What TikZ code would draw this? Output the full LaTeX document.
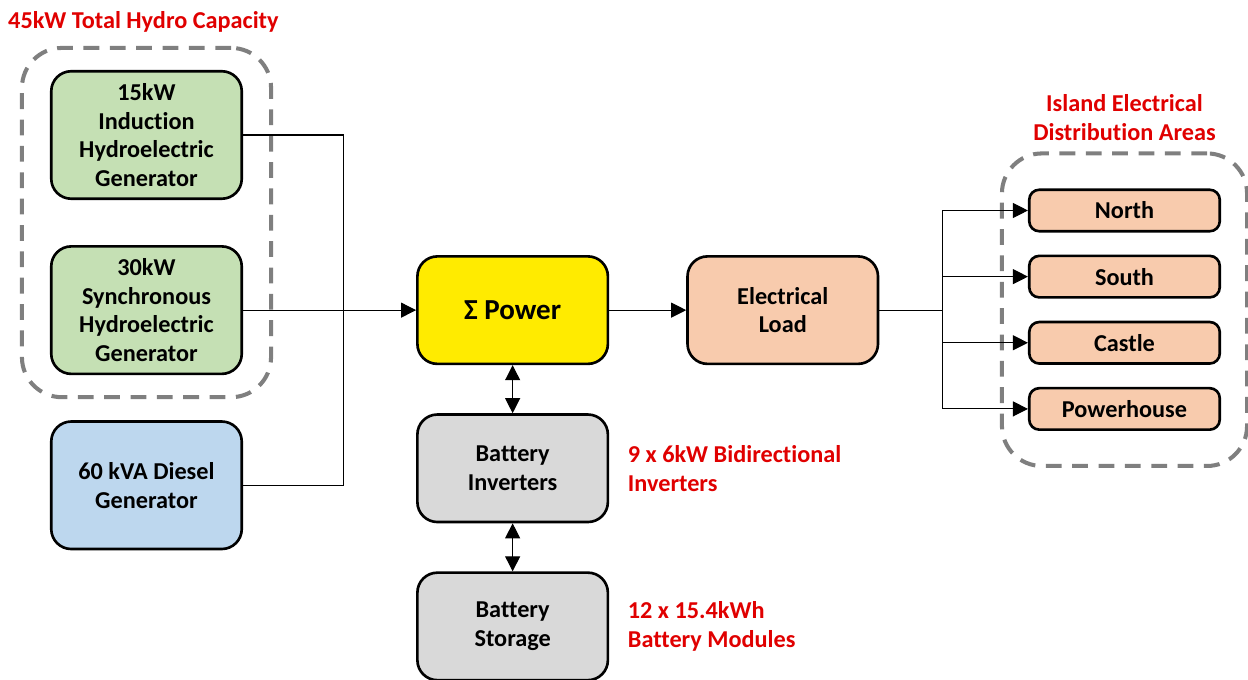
\documentclass[tikz,border=0pt]{standalone}
\usepackage{fontspec}
\setmainfont{Carlito}[Ligatures=NoCommon]
\usetikzlibrary{arrows.meta, positioning, calc, fit}
\definecolor{cHydro}{RGB}{197,224,180}
\definecolor{cDiesel}{RGB}{189,215,238}
\definecolor{cSum}{RGB}{255,235,0}
\definecolor{cLoad}{RGB}{248,203,173}
\definecolor{cBatt}{RGB}{217,217,217}
\definecolor{cRed}{RGB}{224,0,0}
\definecolor{cGroup}{RGB}{127,127,127}
\tikzset{
	blk/.style   ={rectangle, rounded corners=0.4cm, draw=black, line width=1.5pt, minimum width=3.81cm, align=center},
	gen/.style   ={blk, minimum height=2.55cm},
	mid/.style   ={blk, minimum height=2.15cm},
	area/.style  ={blk, rounded corners=0.2cm, minimum height=0.83cm, fill=cLoad},
	group/.style ={draw=cGroup, line width=2.3pt, dash pattern=on 9pt off 6pt, rounded corners=0.8cm},
	note/.style  ={text=cRed, align=left},
	% connectors
	wire/.style  ={line width=0.6pt},
	sig/.style   ={-{Triangle[length=3mm, width=3mm]}, line width=0.6pt},
	bisig/.style ={{Triangle[length=3mm, width=3mm]}-{Triangle[length=3mm, width=3mm]}, line width=0.6pt},
}
\begin{document}
\begin{tikzpicture}[font=\bfseries\fontsize{13.8}{16.4}\selectfont, node distance=0.9cm]
			\useasboundingbox (0,0) rectangle (24.96,-13.6);
			\node[gen, fill=cHydro] (hyd1) at (2.93,-2.7) {15kW\\ Induction\\ Hydroelectric\\ Generator};
			\node[gen, fill=cHydro, below=of hyd1] (hyd2) {30kW\\ Synchronous\\ Hydroelectric\\ Generator};
			\node[gen, fill=cDiesel, below=of hyd2] (dsl) {60 kVA Diesel\\ Generator};
			\node[mid, fill=cSum, right=3.46cm of hyd2, font=\bfseries\fontsize{16.5}{19}\selectfont] (pwr) {Σ Power};
			\node[mid, fill=cLoad, right=1.54cm of pwr] (load) {Electrical\\ Load};
			\node[mid, fill=cBatt, below=0.96cm of pwr] (inv) {Battery\\ Inverters};
			\node[mid, fill=cBatt, below=0.96cm of inv] (bat) {Battery\\ Storage};
			\node[note, right=0.25cm of inv] (invnote) {9 x 6kW Bidirectional\\ Inverters};
			\node[note, right=0.25cm of bat] (batnote) {12 x 15.4kWh\\ Battery Modules};
			\node[area] (north) at (22.49,-4.21) {North};
			\node[area, below=0.44cm of north] (south) {South};
			\node[area, below=0.44cm of south] (castle) {Castle};
			\node[area, below=0.44cm of castle] (phouse) {Powerhouse};
			\node[group, fit=(hyd1)(hyd2), inner xsep=0.56cm, inner ysep=0.44cm] (hydro) {};
			\node[group, fit=(north)(phouse), inner xsep=0.52cm, inner ysep=0.7cm] (areas) {};
			\node[note, anchor=west] (hydtitle) at (0.04,-0.44) {45kW Total Hydro Capacity};
			\node[note, align=center, above=0.1cm of areas] (areatitle) {Island Electrical\\ Distribution Areas};
			\coordinate[right=2cm of hyd2.east] (jn);
			\coordinate[right=1.26cm of load.east] (split);
			\draw[wire] (hyd1.east) -| (jn) |- (dsl.east);
			\draw[sig] (hyd2.east) -- (pwr.west);
			\draw[sig] (pwr) -- (load);
			\draw[wire] (load.east) -- (split);
			\foreach \n in {north, south, castle, phouse}
				\draw[sig] (split) |- (\n.west);
			\draw[bisig] (pwr) -- (inv);
			\draw[bisig] (inv) -- (bat);
		\end{tikzpicture}
\end{document}
